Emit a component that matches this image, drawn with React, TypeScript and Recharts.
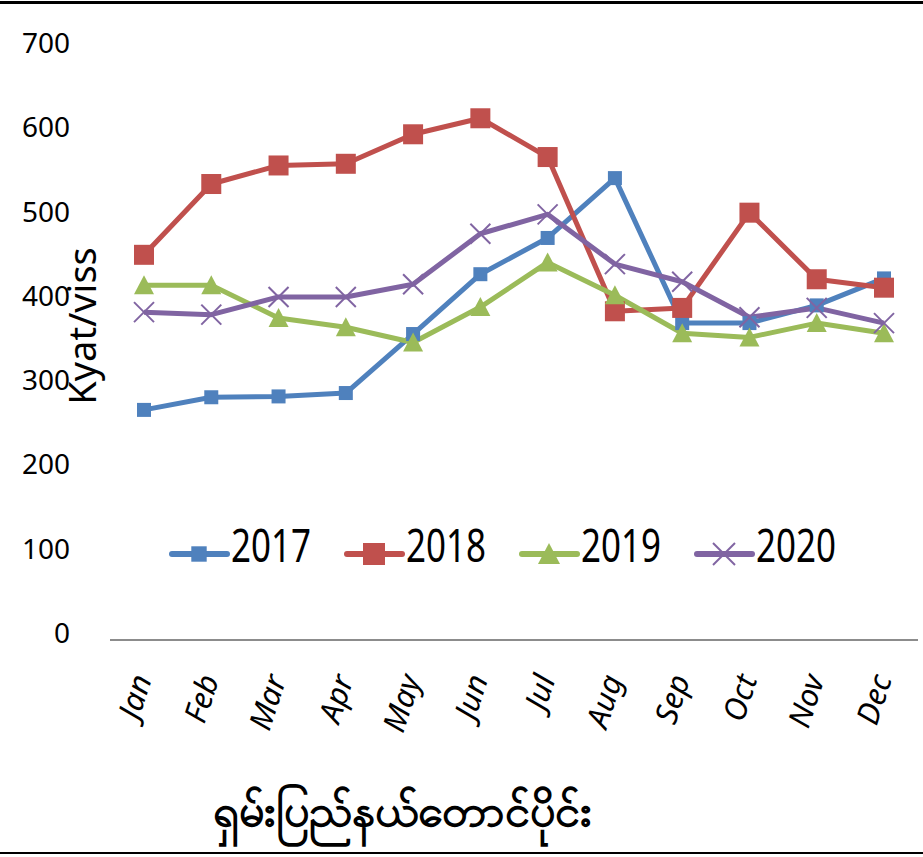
import { LineChart, Line, XAxis, YAxis } from "recharts";

const months = ["Jan", "Feb", "Mar", "Apr", "May", "Jun", "Jul", "Aug", "Sep", "Oct", "Nov", "Dec"];
const y2017 = [273, 288, 289, 293, 363, 434, 477, 548, 376, 376, 397, 429];
const y2018 = [457, 541, 563, 565, 600, 619, 573, 390, 394, 507, 428, 418];
const y2019 = [421, 421, 382, 371, 353, 395, 448, 409, 364, 359, 376, 364];
const y2020 = [389, 386, 407, 407, 422, 482, 505, 446, 425, 383, 394, 376];
const yTicks = [0, 100, 200, 300, 400, 500, 600, 700];

const yLabel = "Kyat/viss";
const title = "ရှမ်းပြည်နယ်တောင်ပိုင်း";

const series = [
  { key: "2017", color: "#4F81BD", marker: "smallSquare" },
  { key: "2018", color: "#C0504D", marker: "square" },
  { key: "2019", color: "#9BBB59", marker: "triangle" },
  { key: "2020", color: "#8064A2", marker: "cross" },
];

const data = months.map((m, i) => ({
  month: m,
  "2017": y2017[i],
  "2018": y2018[i],
  "2019": y2019[i],
  "2020": y2020[i],
}));

const FONT = "'Noto Sans', 'Open Sans', sans-serif";

function Marker({ kind, color, cx, cy, big }: any) {
  if (cx == null || cy == null) return null;
  const k = big ? 1.1 : 1;
  if (kind === "smallSquare") {
    const s = 14 * k;
    return <rect x={cx - s / 2} y={cy - s / 2} width={s} height={s} fill={color} />;
  }
  if (kind === "square") {
    const s = 20 * k;
    return <rect x={cx - s / 2} y={cy - s / 2} width={s} height={s} fill={color} />;
  }
  if (kind === "triangle") {
    const w = 20 * k;
    const h = 18 * k;
    return (
      <polygon
        points={`${cx},${cy - h / 2 - 1} ${cx + w / 2},${cy + h / 2} ${cx - w / 2},${cy + h / 2}`}
        fill={color}
      />
    );
  }
  const r = 10 * k;
  return (
    <g stroke={color} strokeWidth={2}>
      <line x1={cx - r} y1={cy - r} x2={cx + r} y2={cy + r} />
      <line x1={cx - r} y1={cy + r} x2={cx + r} y2={cy - r} />
    </g>
  );
}

function YTick({ y, payload }: any) {
  return (
    <text x={70} y={y + 3} textAnchor="end" fontFamily={FONT} fontSize={28} fill="#000">
      {payload.value}
    </text>
  );
}

// month labels: italic, turned almost upright like the original
function XTick({ x, payload }: any) {
  const ax = x + 8;
  const ay = 679;
  return (
    <text
      x={ax}
      y={ay}
      textAnchor="end"
      fontFamily={FONT}
      fontStyle="italic"
      fontSize={31}
      fill="#000"
      transform={`rotate(-72, ${ax}, ${ay})`}
    >
      {payload.value}
    </text>
  );
}

export default function App() {
  return (
    <div
      style={{
        position: "absolute",
        left: 0,
        top: 0,
        width: 923,
        height: 857,
        background: "#fff",
        overflow: "hidden",
      }}
    >
      <div style={{ position: "absolute", left: 0, top: 1, width: 923, height: 3, background: "#000" }} />
      <div style={{ position: "absolute", left: 0, top: 852, width: 923, height: 2, background: "#000" }} />

      <LineChart
        width={923}
        height={857}
        data={data}
        margin={{ top: 50, right: 5, bottom: 0, left: 0 }}
      >
        <YAxis
          width={110}
          domain={[0, 700]}
          ticks={yTicks}
          axisLine={false}
          tickLine={false}
          tick={<YTick />}
          interval={0}
        />
        <XAxis
          dataKey="month"
          height={217}
          padding={{ left: 34, right: 34 }}
          axisLine={{ stroke: "#8c8c8c", strokeWidth: 2 }}
          tickLine={false}
          tick={<XTick />}
          interval={0}
        />
        {series.map((s) => (
          <Line
            key={s.key}
            dataKey={s.key}
            stroke={s.color}
            strokeWidth={5}
            isAnimationActive={false}
            strokeLinejoin="round"
            dot={(p: any) => <Marker key={`${s.key}-${p.index}`} kind={s.marker} color={s.color} cx={p.cx} cy={p.cy} />}
            activeDot={false}
          />
        ))}
      </LineChart>

      <svg
        width={923}
        height={857}
        style={{ position: "absolute", left: 0, top: 0, pointerEvents: "none" }}
      >
        <text
          x={0}
          y={0}
          transform="translate(96, 326) rotate(-90)"
          textAnchor="middle"
          fontFamily={FONT}
          fontSize={38}
          fill="#000"
        >
          {yLabel}
        </text>

        {series.map((s, i) => {
          const x0 = 172 + i * 175;
          return (
            <g key={s.key}>
              <line x1={x0} y1={554} x2={x0 + 55} y2={554} stroke={s.color} strokeWidth={6} strokeLinecap="round" />
              <Marker kind={s.marker} color={s.color} cx={x0 + 27} cy={554} big />
              <text
                x={x0 + 59}
                y={562}
                fontFamily={`'Liberation Sans Narrow', ${FONT}`}
                fontSize={46}
                textLength={80}
                lengthAdjust="spacingAndGlyphs"
                fill="#000"
              >
                {s.key}
              </text>
            </g>
          );
        })}

        <text
          x={402}
          y={826}
          textAnchor="middle"
          fontFamily={FONT}
          fontSize={45}
          fontWeight="bold"
          fill="#000"
        >
          {title}
        </text>
      </svg>
    </div>
  );
}
